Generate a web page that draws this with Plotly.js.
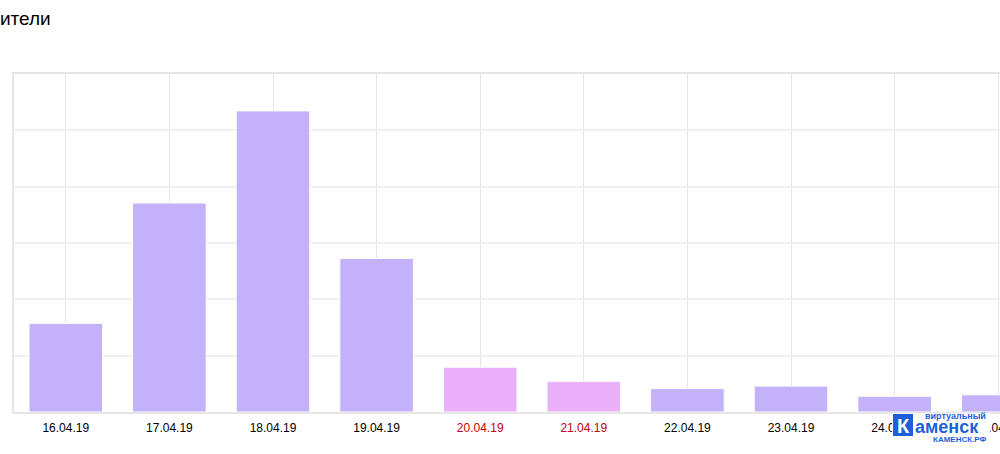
<!DOCTYPE html>
<html>
<head>
<meta charset="utf-8">
<script src="https://cdn.plot.ly/plotly-3.0.1.min.js"></script>
<style>
html,body{margin:0;padding:0;overflow:hidden;background:#fff;width:1000px;height:454px;}
#chart{width:1050px;height:454px;}
</style>
</head>
<body>
<div id="chart"></div>
<script>
var titleText = "ители";
var categories = ["16.04.19","17.04.19","18.04.19","19.04.19","20.04.19","21.04.19","22.04.19","23.04.19","24.04.19","25.04.19"];
var visitors = [315, 742, 1069, 545, 159, 109, 83, 92, 56, 61];
var weekend = [false, false, false, false, true, true, false, false, false, false];
var logoTop = "виртуальный";
var logoLetter = "К";
var logoMain = "аменск";
var logoBottom = "КАМЕНСК.РФ";

var colorWeekday = "#c3b1f9";
var colorWeekend = "#e8b1f9";
var blue = "#1f5fd8";
var sans = "Liberation Sans, Arial, sans-serif";

var barColors = weekend.map(function(w){ return w ? colorWeekend : colorWeekday; });
var tickText = categories.map(function(c, i){
  return weekend[i] ? '<span style="color:#c40000">' + c + '</span>' : c;
});

var W = 1050, H = 454, L = 14, T = 74, B = 42, R = 0;
var pw = W - L - R, ph = H - T - B;
function px(x){ return (x - L) / pw; }
function py(y){ return (H - B - y) / ph; }

var trace = {
  type: "bar",
  x: categories,
  y: visitors,
  marker: {color: barColors, line: {color: "#ffffff", width: 1}},
  hoverinfo: "x+y"
};

var layout = {
  width: W, height: H,
  margin: {l: L, r: R, t: T, b: B, pad: 0},
  paper_bgcolor: "#fff", plot_bgcolor: "#fff",
  bargap: 0.29,
  showlegend: false,
  font: {family: sans, size: 12, color: "#000"},
  title: {text: titleText, x: 0, xref: "container", xanchor: "left", y: 1 - 18/454, yref: "container", yanchor: "middle",
          pad: {l: 0, t: 0}, font: {family: sans, size: 19, color: "#000"}},
  xaxis: {
    type: "category",
    range: [-0.5, 9.5],
    tickvals: categories, ticktext: tickText,
    showgrid: true, gridcolor: "#e4e4e4", gridwidth: 1,
    showline: true, linecolor: "#e6e6e6", linewidth: 2, mirror: true,
    ticks: "", ticklabelstandoff: 4,
    tickfont: {family: sans, size: 12, color: "#000"},
    fixedrange: true
  },
  yaxis: {
    range: [0, 1200], dtick: 200, tick0: 0,
    showticklabels: false, ticks: "",
    showgrid: true, gridcolor: "#f0f0f0", gridwidth: 2,
    zeroline: false,
    showline: true, linecolor: "#e6e6e6", linewidth: 2, mirror: true,
    fixedrange: true
  },
  shapes: [
    {type: "rect", xref: "paper", yref: "paper", x0: px(892), x1: px(990), y0: py(413.5), y1: py(446), fillcolor: "#fff", line: {width: 0}, layer: "above"},
    {type: "rect", xref: "paper", yref: "paper", x0: px(893), x1: px(913), y0: py(414), y1: py(436), fillcolor: blue, line: {width: 0}, layer: "above"}
  ],
  annotations: [
    {xref: "paper", yref: "paper", x: px(903), y: py(425.5), text: "<b>" + logoLetter + "</b>", showarrow: false, xanchor: "center", yanchor: "middle",
     font: {family: sans, size: 20, color: "#fff"}},
    {xref: "paper", yref: "paper", x: px(913), y: py(426.5), text: "<b>" + logoMain + "</b>", showarrow: false, xanchor: "left", yanchor: "middle",
     font: {family: sans, size: 18, color: blue}},
    {xref: "paper", yref: "paper", x: px(988), y: py(415.5), text: "<b>" + logoTop + "</b>", showarrow: false, xanchor: "right", yanchor: "middle",
     font: {family: sans, size: 9, color: blue}},
    {xref: "paper", yref: "paper", x: px(960), y: py(439), text: "<b>" + logoBottom + "</b>", showarrow: false, xanchor: "center", yanchor: "middle",
     font: {family: sans, size: 8, color: blue}}
  ]
};

Plotly.newPlot("chart", [trace], layout, {displayModeBar: false, staticPlot: true});
</script>
</body>
</html>
